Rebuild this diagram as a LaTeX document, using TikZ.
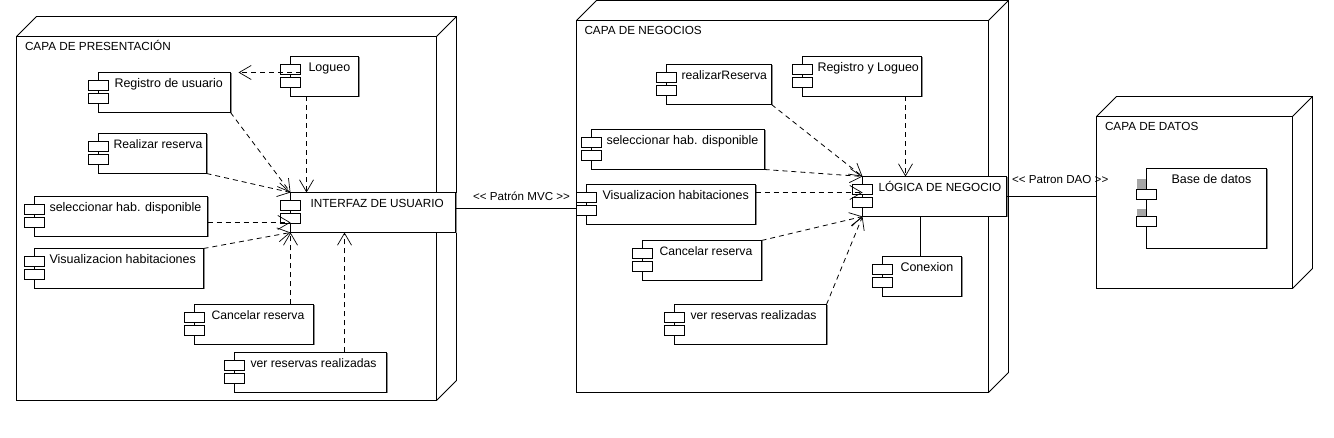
\documentclass[tikz,border=0pt]{standalone}
\usepackage{fontspec}
\setmainfont{Liberation Sans}
\usetikzlibrary{arrows.meta,calc,shadows}
\newcommand{\capsize}{\fontsize{11.75}{14}\selectfont}
\newcommand{\ressize}{\fontsize{12.2}{14}\selectfont}
\tikzset{
  x=1pt,y=-1pt,
  every node/.style={font=\fontsize{12.5}{14}\selectfont},
  ln/.style={line width=0.9pt,black},
  body/.style={ln,draw,fill=white,inner sep=0pt,outer sep=0pt,anchor=north west,
    general shadow={fill=black!45,shadow xshift=1pt,shadow yshift=-1pt}},
  tabbox/.style={ln,draw,fill=white,inner sep=0pt,outer sep=0pt,anchor=north west,minimum width=20pt,minimum height=10pt},
  front/.style={ln,draw,fill=white,inner sep=0pt,outer sep=0pt,anchor=north west},
  dep/.style={line width=0.8pt,black,dash pattern=on 5pt off 4pt,-{Straight Barb[length=12pt,width=14pt,line width=0.7pt]}},
  assoc/.style={ln},
  conlabel/.style={anchor=base west,inner sep=0pt,font=\fontsize{11.6}{13}\selectfont},
}
% name, x1, y1, x2, y2, text x, text, first tab offset, second tab offset
\newcommand{\umlcompt}[9]{%
  \pgfmathsetmacro{\cw}{#4-#2}\pgfmathsetmacro{\ch}{#5-#3}\pgfmathsetmacro{\cdx}{#6-#2}%
  \node[body] (#1) at (#2,#3) {\parbox[c][\ch pt][t]{\cw pt}{\noindent\hspace*{\cdx pt}\rule{0pt}{15pt}\mbox{#7}}};
  \node[tabbox] (#1-a) at ($(#1.north west)+(-10,#8)$) {};
  \node[tabbox] (#1-b) at ($(#1.north west)+(-10,#9)$) {};
}
\newcommand{\umlcomp}[7]{\umlcompt{#1}{#2}{#3}{#4}{#5}{#6}{#7}{8}{21}}
% name, x1, y1, x2, y2, text x, text
\newcommand{\umlnode}[7]{%
  \pgfmathsetmacro{\cw}{#4-#2}\pgfmathsetmacro{\ch}{#5-#3}\pgfmathsetmacro{\cdx}{#6-#2}%
  \node[front] (#1) at (#2,#3) {\parbox[c][\ch pt][t]{\cw pt}{\noindent\hspace*{\cdx pt}\rule{0pt}{14.5pt}\mbox{\capsize #7}}};
  \draw[ln,line join=miter] (#1.north west) -- ++(20,-20) -- ($(#1.north east)+(20,-20)$) -- ($(#1.south east)+(20,-20)$) -- (#1.south east);
  \draw[ln] (#1.north east) -- ++(20,-20);
}
\begin{document}
\begin{tikzpicture}
\useasboundingbox (0,0) rectangle (1334,438);
\fill[white] (0,0) rectangle (1334,438);

\umlnode{n1}{16.5}{36.5}{436.5}{400.5}{25}{CAPA DE PRESENTACIÓN}
\umlnode{n2}{576.5}{20.5}{988.5}{392.5}{584.5}{CAPA DE NEGOCIOS}
\umlnode{n3}{1096.5}{116.5}{1292.5}{288.5}{1105}{CAPA DE DATOS}

% presentation layer
\umlcomp{logueo}{290.5}{56.5}{358.5}{96.5}{308.5}{Logueo}
\umlcomp{registro}{98.5}{72.5}{230.5}{112.5}{114.5}{Registro de usuario}
\umlcomp{realizar}{98.5}{133.5}{206.5}{173.5}{113.5}{\ressize Realizar reserva}
\umlcomp{selec}{34.5}{196.5}{207.5}{236.5}{49.5}{seleccionar hab. disponible}
\umlcomp{visual}{34.5}{248.5}{203.5}{288.5}{49.5}{Visualizacion habitaciones}
\umlcomp{cancelar}{194.5}{304.5}{313.5}{344.5}{211.5}{\ressize Cancelar reserva}
\umlcomp{ver}{234.5}{352.5}{386.5}{392.5}{250.5}{\ressize ver reservas realizadas}
\umlcomp{interfaz}{290.5}{192.5}{455.5}{232.5}{310.5}{\capsize INTERFAZ DE USUARIO}

% business layer
\umlcomp{breal}{666.5}{64.5}{771.5}{104.5}{681.5}{\ressize realizarReserva}
\umlcomp{breg}{802.5}{56.5}{921.5}{96.5}{817.5}{Registro y Logueo}
\umlcomp{bsel}{591.5}{129.5}{764.5}{169.5}{606.5}{seleccionar hab. disponible}
\umlcomp{bvis}{586.5}{184.5}{755.5}{224.5}{602.5}{Visualizacion habitaciones}
\umlcomp{logica}{862.5}{176.5}{1006.5}{216.5}{878.5}{\capsize LÓGICA DE NEGOCIO}
\umlcomp{bcan}{642.5}{240.5}{761.5}{280.5}{659.5}{\ressize Cancelar reserva}
\umlcomp{bver}{674.5}{304.5}{826.5}{344.5}{690.5}{\ressize ver reservas realizadas}
\umlcomp{conexion}{882.5}{256.5}{961.5}{296.5}{900.5}{Conexion}

% data layer
\fill[black!35] (1136.5,179) rectangle (1146,189);
\fill[black!35] (1136.5,209) rectangle (1146,216);
\umlcompt{base}{1146.5}{168.5}{1266.5}{248.5}{1171.5}{Base de datos}{21}{48}

% connectors: presentation
\draw[dep] ($(logueo.north west)+(10,16)$) -- ($(registro.north east)+(8,0)$);
\draw[dep] (registro.south east) -- (interfaz.north west);
\draw[dep] ($(logueo.south west)+(16,0)$) -- ($(interfaz.north west)+(16,0)$);
\draw[dep] (realizar.south east) -- (interfaz.north west);
\draw[dep] ($(selec.north east)+(0,26)$) -- ($(interfaz.north west)+(0,30)$);
\draw[dep] (visual.north east) -- (interfaz.south west);
\draw[dep] ($(cancelar.north west)+(96,0)$) -- (interfaz.south west);
\draw[dep] ($(ver.north west)+(110,0)$) -- ($(interfaz.south west)+(54,0)$);

% connectors: business
\draw[dep] (breal.south east) -- (logica.north west);
\draw[dep] ($(breg.south west)+(103,0)$) -- ($(logica.north west)+(43,0)$);
\draw[dep] (bsel.south east) -- (logica.north west);
\draw[dep] ($(bvis.north east)+(0,8)$) -- ($(logica.north west)+(0,16)$);
\draw[dep] (bcan.north east) -- (logica.south west);
\draw[dep] (bver.north east) -- (logica.south west);
\draw[assoc] ($(logica.south west)+(58,0)$) -- ($(conexion.north west)+(38,0)$);

% links between layers
\draw[assoc] ($(interfaz.north east)+(0,16)$) -- ($(bvis-b.north west)+(0,3)$);
\draw[assoc] (logica.east) -- (logica.east -| n3.west);
\node[conlabel] (mvc) at (473,201) {<{}< Patrón MVC >{}>};
\node[conlabel] (dao) at (1012,184) {<{}< Patron DAO >{}>};
\end{tikzpicture}
\end{document}
